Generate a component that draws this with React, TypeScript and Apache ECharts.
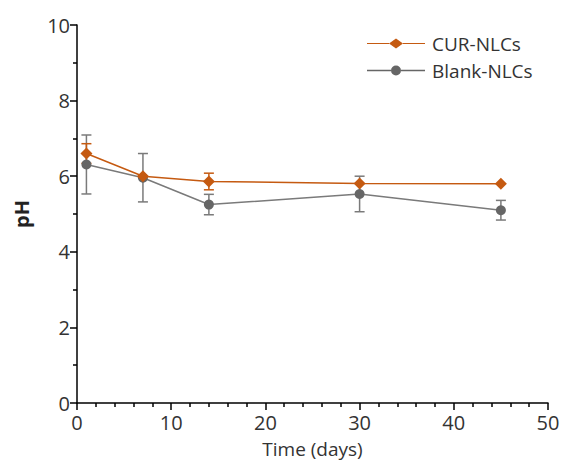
import React, { useEffect, useRef } from "react";
import * as echarts from "echarts";

const days = [1, 7, 14, 30, 45];
const curMean = [6.6, 6.0, 5.86, 5.81, 5.8];
const curErr = [0.26, 0, 0.22, 0, 0];
const blankMean = [6.31, 5.96, 5.25, 5.53, 5.1];
const blankErr = [0.78, 0.64, 0.27, 0.47, 0.26];
const seriesNames = ["CUR-NLCs", "Blank-NLCs"];

const ORANGE = "#C55A11";
const GRAY = "#666666";
const GRAY_LINE = "#7a7a7a";
const FONT = "'Open Sans', 'Noto Sans', sans-serif";

const diamondIcon =
  "path://M0,4.3L22,4.3L22,5.7L0,5.7Z M22,5L29,-2L36,5L29,12Z M36,4.3L58,4.3L58,5.7L36,5.7Z";
const circleIcon =
  "path://M0,4.3L24,4.3L24,5.7L0,5.7Z M24,5A5,5 0 1,1 34,5A5,5 0 1,1 24,5Z M34,4.3L58,4.3L58,5.7L34,5.7Z";

function errorSeries(mean: number[], err: number[], color: string, z: number) {
  const data = days.map((d, i) => [d, mean[i] - err[i], mean[i] + err[i]]);
  return {
    type: "custom",
    z,
    silent: true,
    data,
    renderItem: (params: any, api: any) => {
      const x = api.value(0);
      if (api.value(2) - api.value(1) <= 0) return { type: "group", children: [] };
      const lo = api.coord([x, api.value(1)]);
      const hi = api.coord([x, api.value(2)]);
      const hw = 5;
      const style = { stroke: color, lineWidth: 1.5 };
      return {
        type: "group",
        children: [
          { type: "line", shape: { x1: lo[0], y1: lo[1], x2: hi[0], y2: hi[1] }, style },
          { type: "line", shape: { x1: lo[0] - hw, y1: lo[1], x2: lo[0] + hw, y2: lo[1] }, style },
          { type: "line", shape: { x1: hi[0] - hw, y1: hi[1], x2: hi[0] + hw, y2: hi[1] }, style },
        ],
      };
    },
  };
}

export default function App() {
  const ref = useRef<HTMLDivElement>(null);
  useEffect(() => {
    if (!ref.current) return;
    const chart = echarts.init(ref.current, null, { renderer: "svg" });
    chart.setOption({
      animation: false,
      backgroundColor: "#ffffff",
      grid: { left: 77, right: 20, top: 25, bottom: 55, containLabel: false },
      legend: {
        left: 367,
        top: 34,
        padding: 0,
        orient: "vertical",
        itemWidth: 58,
        itemHeight: 10,
        itemGap: 8,
        symbolKeepAspect: false,
        textStyle: { fontFamily: FONT, fontSize: 19, color: "#333", padding: [0, 0, 0, 2] },
        data: [
          { name: seriesNames[0], icon: diamondIcon, itemStyle: { color: ORANGE } },
          { name: seriesNames[1], icon: circleIcon, itemStyle: { color: GRAY } },
        ],
      },
      xAxis: {
        type: "value",
        min: 0,
        max: 50,
        interval: 10,
        name: "Time (days)",
        nameLocation: "middle",
        nameGap: 36,
        nameTextStyle: { fontFamily: FONT, fontSize: 19, color: "#333" },
        axisLine: { show: true, lineStyle: { color: "#000", width: 1.5 } },
        axisTick: { show: true, length: 7, lineStyle: { color: "#000", width: 1.5 } },
        minorTick: { show: true, splitNumber: 5, length: 4, lineStyle: { color: "#000", width: 1.5 } },
        splitLine: { show: false },
        axisLabel: { fontFamily: FONT, fontSize: 20, color: "#333", margin: 9 },
      },
      yAxis: {
        type: "value",
        min: 0,
        max: 10,
        interval: 2,
        name: "pH",
        nameLocation: "middle",
        nameGap: 46,
        nameTextStyle: { fontFamily: FONT, fontSize: 20, fontWeight: "bold", color: "#222" },
        axisLine: { show: true, lineStyle: { color: "#000", width: 1.5 } },
        axisTick: { show: true, length: 7, lineStyle: { color: "#000", width: 1.5 } },
        minorTick: { show: true, splitNumber: 2, length: 4, lineStyle: { color: "#000", width: 1.5 } },
        splitLine: { show: false },
        axisLabel: { fontFamily: FONT, fontSize: 20, color: "#333", margin: 7 },
      },
      series: [
        errorSeries(blankMean, blankErr, GRAY_LINE, 1),
        errorSeries(curMean, curErr, ORANGE, 2),
        {
          name: seriesNames[1],
          type: "line",
          z: 3,
          data: days.map((d, i) => [d, blankMean[i]]),
          symbol: "circle",
          symbolSize: 10,
          itemStyle: { color: GRAY },
          lineStyle: { color: GRAY_LINE, width: 1.5 },
        },
        {
          name: seriesNames[0],
          type: "line",
          z: 4,
          data: days.map((d, i) => [d, curMean[i]]),
          symbol: "diamond",
          symbolSize: 12,
          itemStyle: { color: ORANGE },
          lineStyle: { color: ORANGE, width: 1.5 },
        },
      ],
    });
    return () => chart.dispose();
  }, []);
  return (
    <div style={{ position: "fixed", left: 0, top: 0, width: 568, height: 463, overflow: "hidden" }}>
      <div ref={ref} style={{ width: 568, height: 463 }} />
    </div>
  );
}
